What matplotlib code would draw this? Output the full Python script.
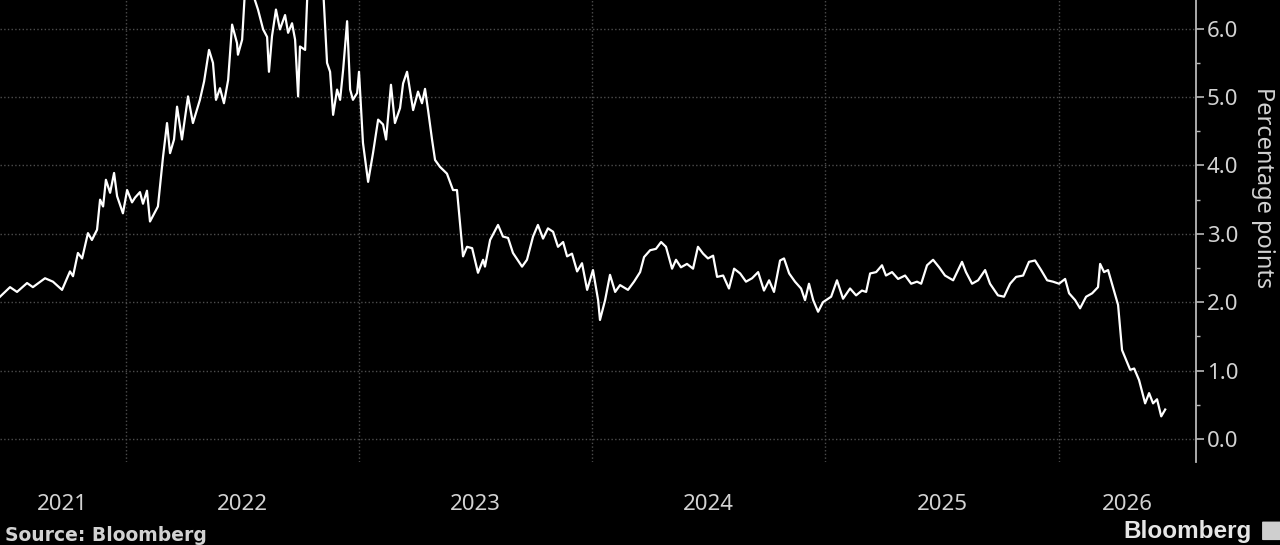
import matplotlib
matplotlib.use("Agg")
import matplotlib.pyplot as plt
import matplotlib.patches as patches
from matplotlib.ticker import MultipleLocator

plt.rcParams['font.family'] = ['Noto Sans', 'DejaVu Sans']

# time axis in decimal years, values in percentage points
years = [
    2021.462, 2021.505, 2021.535, 2021.578, 2021.603, 2021.655, 2021.689, 2021.728,
    2021.762, 2021.775, 2021.796, 2021.814, 2021.839, 2021.856, 2021.878, 2021.891,
    2021.904, 2021.916, 2021.934, 2021.951, 2021.964, 2021.989, 2022.007, 2022.028,
    2022.041, 2022.062, 2022.075, 2022.092, 2022.105, 2022.139, 2022.161, 2022.178,
    2022.191, 2022.208, 2022.221, 2022.242, 2022.268, 2022.289, 2022.319, 2022.337,
    2022.358, 2022.375, 2022.388, 2022.405, 2022.422, 2022.440, 2022.457, 2022.478,
    2022.482, 2022.500, 2022.512, 2022.547, 2022.568, 2022.590, 2022.607, 2022.615,
    2022.628, 2022.645, 2022.662, 2022.684, 2022.697, 2022.714, 2022.727, 2022.740,
    2022.748, 2022.770, 2022.782, 2022.847, 2022.864, 2022.877, 2022.890, 2022.907,
    2022.920, 2022.933, 2022.950, 2022.963, 2022.975, 2022.993, 2023.001, 2023.018,
    2023.040, 2023.061, 2023.083, 2023.104, 2023.117, 2023.138, 2023.155, 2023.177,
    2023.190, 2023.207, 2023.233, 2023.254, 2023.271, 2023.284, 2023.297, 2023.314,
    2023.327, 2023.348, 2023.378, 2023.404, 2023.421, 2023.447, 2023.464, 2023.486,
    2023.511, 2023.533, 2023.541, 2023.563, 2023.597, 2023.618, 2023.640, 2023.661,
    2023.700, 2023.721, 2023.747, 2023.768, 2023.790, 2023.811, 2023.833, 2023.854,
    2023.876, 2023.893, 2023.914, 2023.936, 2023.957, 2023.979, 2024.004, 2024.026,
    2024.034, 2024.056, 2024.077, 2024.099, 2024.120, 2024.154, 2024.180, 2024.206,
    2024.223, 2024.249, 2024.274, 2024.296, 2024.317, 2024.343, 2024.360, 2024.381,
    2024.407, 2024.433, 2024.454, 2024.476, 2024.497, 2024.519, 2024.536, 2024.562,
    2024.587, 2024.609, 2024.635, 2024.660, 2024.686, 2024.712, 2024.737, 2024.759,
    2024.780, 2024.806, 2024.823, 2024.845, 2024.870, 2024.896, 2024.913, 2024.930,
    2024.948, 2024.969, 2024.990, 2025.025, 2025.050, 2025.076, 2025.106, 2025.132,
    2025.157, 2025.175, 2025.192, 2025.218, 2025.243, 2025.260, 2025.286, 2025.312,
    2025.342, 2025.368, 2025.393, 2025.411, 2025.436, 2025.462, 2025.488, 2025.513,
    2025.548, 2025.586, 2025.603, 2025.629, 2025.655, 2025.685, 2025.706, 2025.740,
    2025.766, 2025.792, 2025.818, 2025.848, 2025.873, 2025.899, 2025.925, 2025.951,
    2025.976, 2026.002, 2026.028, 2026.045, 2026.071, 2026.092, 2026.118, 2026.144,
    2026.169, 2026.178, 2026.195, 2026.212, 2026.229, 2026.255, 2026.272, 2026.289,
    2026.307, 2026.324, 2026.345, 2026.371, 2026.388, 2026.405, 2026.422, 2026.440,
    2026.457,
]
spread = [
    2.08, 2.22, 2.15, 2.28, 2.22, 2.35, 2.30, 2.18,
    2.45, 2.38, 2.72, 2.64, 3.01, 2.91, 3.06, 3.50,
    3.40, 3.79, 3.60, 3.89, 3.55, 3.30, 3.64, 3.46,
    3.53, 3.61, 3.44, 3.63, 3.18, 3.40, 4.13, 4.62,
    4.18, 4.38, 4.86, 4.38, 5.01, 4.62, 4.96, 5.23,
    5.69, 5.50, 4.96, 5.13, 4.91, 5.25, 6.06, 5.79,
    5.62, 5.84, 6.55, 6.50, 6.28, 5.99, 5.88, 5.37,
    5.89, 6.28, 5.99, 6.20, 5.94, 6.08, 5.84, 5.01,
    5.74, 5.69, 6.70, 6.60, 5.50, 5.37, 4.74, 5.11,
    4.96, 5.40, 6.11, 5.11, 4.96, 5.06, 5.37, 4.33,
    3.76, 4.18, 4.67, 4.60, 4.38, 5.18, 4.62, 4.84,
    5.20, 5.37, 4.81, 5.08, 4.91, 5.12, 4.81, 4.38,
    4.08, 3.98, 3.88, 3.64, 3.64, 2.67, 2.81, 2.79,
    2.43, 2.62, 2.52, 2.91, 3.13, 2.96, 2.94, 2.72,
    2.52, 2.62, 2.96, 3.13, 2.93, 3.08, 3.03, 2.81,
    2.88, 2.67, 2.71, 2.45, 2.57, 2.18, 2.47, 2.03,
    1.74, 2.03, 2.40, 2.15, 2.25, 2.18, 2.30, 2.44,
    2.66, 2.76, 2.78, 2.88, 2.81, 2.49, 2.62, 2.51,
    2.56, 2.49, 2.81, 2.71, 2.64, 2.68, 2.37, 2.39,
    2.20, 2.49, 2.42, 2.30, 2.35, 2.44, 2.17, 2.32,
    2.15, 2.61, 2.64, 2.42, 2.30, 2.20, 2.03, 2.27,
    2.03, 1.86, 2.00, 2.08, 2.32, 2.05, 2.20, 2.10,
    2.17, 2.15, 2.42, 2.44, 2.54, 2.39, 2.44, 2.34,
    2.39, 2.27, 2.30, 2.27, 2.54, 2.62, 2.51, 2.39,
    2.32, 2.59, 2.44, 2.27, 2.32, 2.47, 2.27, 2.10,
    2.08, 2.27, 2.37, 2.39, 2.59, 2.61, 2.47, 2.32,
    2.30, 2.27, 2.34, 2.13, 2.03, 1.91, 2.08, 2.13,
    2.22, 2.56, 2.44, 2.47, 2.27, 1.96, 1.30, 1.16,
    1.01, 1.03, 0.86, 0.52, 0.67, 0.52, 0.58, 0.33,
    0.43,
]

year_starts = [2022, 2023, 2024, 2025, 2026]
year_labels = ['2021', '2022', '2023', '2024', '2025', '2026']
y_ticks = [0, 1, 2, 3, 4, 5, 6]

x_min, x_max = 2021.462, 2026.587
y_min, y_max = -0.34, 6.42

text_col = '#d2d2d2'
axis_col = '#b8b8b8'
grid_col = '#4d4d4d'

fig = plt.figure(figsize=(12.8, 5.45), dpi=100, facecolor='black')
ax = fig.add_axes([0.0, 0.152, 0.934, 0.848])
ax.set_facecolor('black')

ax.plot(years, spread, color='white', lw=1.6, solid_joinstyle='round', zorder=3)

ax.set_xlim(x_min, x_max)
ax.set_ylim(y_min, y_max)

for side in ['top', 'left', 'bottom']:
    ax.spines[side].set_visible(False)
ax.spines['right'].set_color(axis_col)
ax.spines['right'].set_linewidth(1.3)

# y axis on the right
ax.yaxis.tick_right()
ax.set_yticks(y_ticks)
ax.set_yticklabels(['{:.1f}'.format(v) for v in y_ticks])
ax.yaxis.set_minor_locator(MultipleLocator(0.5))
ax.tick_params(axis='y', which='major', direction='out', length=6, width=1.2,
               color=axis_col, labelcolor=text_col, labelsize=16, pad=2)
ax.tick_params(axis='y', which='minor', direction='out', length=3, width=1.0,
               color=axis_col)

# x axis: gridlines at year starts, labels centred in each visible year
edges = [x_min] + year_starts + [x_max]
mids = [(edges[i] + edges[i + 1]) / 2 for i in range(len(edges) - 1)]
ax.set_xticks(year_starts)
ax.set_xticklabels([])
ax.set_xticks(mids, minor=True)
ax.set_xticklabels(year_labels, minor=True)
ax.tick_params(axis='x', which='both', length=0, labelcolor=text_col,
               labelsize=16, pad=23)

ax.grid(axis='y', which='major', color=grid_col, ls=':', lw=1.0, zorder=0)
ax.grid(axis='x', which='major', color=grid_col, ls=':', lw=1.0, zorder=0)

fig.text(0.987, 0.655, 'Percentage points', rotation=270, ha='center', va='center',
         color=text_col, fontsize=17)
fig.text(0.004, 0.017, 'Source: Bloomberg', ha='left', va='center',
         color=text_col, fontsize=13.5, fontweight='bold', family='DejaVu Sans')
fig.text(0.978, 0.024, 'Bloomberg', ha='right', va='center',
         color='#e6e6e6', fontsize=17.5, fontweight='bold', family='Liberation Sans')

icon = patches.FancyBboxPatch((0.987, 0.010), 0.013, 0.032,
                              boxstyle='round,pad=0.001', transform=fig.transFigure,
                              facecolor='#cfcfcf', edgecolor='none')
fig.patches.append(icon)

fig.savefig('out.png', dpi=100, facecolor='black')
